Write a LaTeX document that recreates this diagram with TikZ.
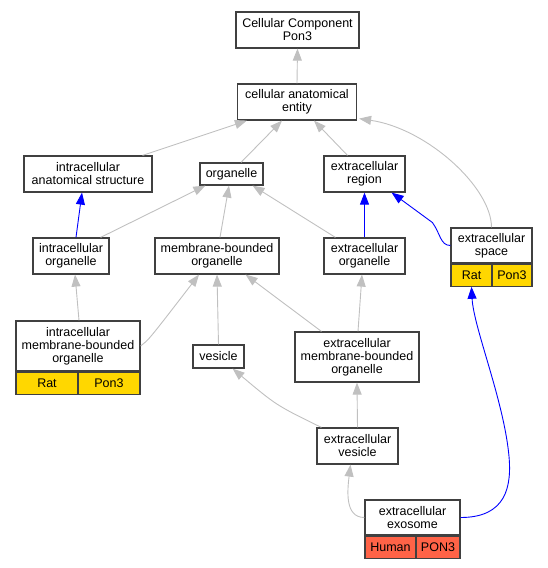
\documentclass[tikz,border=0pt]{standalone}
\usepackage{fontspec}
\setmainfont{Liberation Sans}
\usetikzlibrary{arrows.meta, positioning, calc}
\definecolor{box_gray}{RGB}{64, 64, 64}
\definecolor{edge_gray}{RGB}{192, 192, 192}
\definecolor{rat_gold}{RGB}{255, 215, 0}
\definecolor{human_red}{RGB}{255, 99, 71}
\definecolor{isa_blue}{RGB}{0, 0, 255}

\begin{document}
\begin{tikzpicture}[
    x=1pt, y=-1pt,
    % Node styles
    term/.style={
        rectangle,
        draw=box_gray,
        fill=white,
        line width=1.2pt,
        inner sep=1pt,
        align=center,
        font=\fontsize{12.5}{13}\selectfont
    },
    cell/.style={
        rectangle,
        draw=box_gray,
        fill=#1,
        line width=1.2pt,
        inner sep=1pt,
        minimum height=22pt,
        font=\fontsize{12.5}{13}\selectfont
    },
    arrow/.style={
        -{Triangle[length=12pt, width=9pt]},
        line width=0.9pt,
        #1
    }
]
\useasboundingbox (0,0) rectangle (548,568);

% Position nodes
\node[term, minimum width=123pt, minimum height=36pt] (top) at (297.5,30) {Cellular Component\\Pon3};
\node[term, minimum width=119pt, minimum height=36pt] (cae) at (297,102) {cellular anatomical\\entity};

\node[term, minimum width=128pt, minimum height=36pt] (ias) at (88,174) {intracellular\\anatomical structure};
\node[term, minimum width=63pt, minimum height=22pt] (organelle) at (231.5,174) {organelle};
\node[term, minimum width=81pt, minimum height=36pt] (region) at (364.5,174) {extracellular\\region};

\node[term, minimum width=76pt, minimum height=36pt] (io) at (71,256) {intracellular\\organelle};
\node[term, minimum width=124pt, minimum height=36pt] (mbo) at (217,256) {membrane-bounded\\organelle};
\node[term, minimum width=81pt, minimum height=36pt] (eo) at (364.5,256) {extracellular\\organelle};

\node[term, minimum width=81pt, minimum height=35pt] (space) at (491.5,245.5) {extracellular\\space};
\node[cell=rat_gold, anchor=north west, minimum width=41pt] (spaceRat) at (space.south west) {Rat};
\node[cell=rat_gold, anchor=north east, minimum width=40pt] (spacePon) at (space.south east) {Pon3};

\node[term, minimum width=124pt, minimum height=50pt] (imbo) at (78,346) {intracellular\\membrane-bounded\\organelle};
\node[cell=rat_gold, anchor=north west, minimum width=62pt] (imboRat) at (imbo.south west) {Rat};
\node[cell=rat_gold, anchor=north east, minimum width=62pt] (imboPon) at (imbo.south east) {Pon3};

\node[term, minimum width=51pt, minimum height=23pt] (vesicle) at (218.5,356.5) {vesicle};
\node[term, minimum width=124pt, minimum height=50pt] (emo) at (357,357) {extracellular\\membrane-bounded\\organelle};

\node[term, minimum width=81pt, minimum height=36pt] (ev) at (357.5,446) {extracellular\\vesicle};

\node[term, minimum width=95pt, minimum height=35pt] (exo) at (412.5,517.5) {extracellular\\exosome};
\node[cell=human_red, anchor=north west, minimum width=51pt] (exoHuman) at (exo.south west) {Human};
\node[cell=human_red, anchor=north east, minimum width=44pt] (exoPon) at (exo.south east) {PON3};

% draw arrows
\draw[arrow=edge_gray] (cae.north) -- (top.south);

\draw[arrow=edge_gray] ($(ias.north east)+(-10,0)$) -- ($(cae.south west)+(10,0)$);
\draw[arrow=edge_gray] ($(organelle.north)+(9.5,0)$) -- ($(cae.south)+(-15,0)$);
\draw[arrow=edge_gray] ($(region.north)+(-17,0)$) -- ($(cae.south)+(17,0)$);
\draw[arrow=edge_gray] (space.north) .. controls ($(space.north)+(0,-40)$) and ($(cae.south east)+(70,8)$) .. ($(cae.south east)+(2,-2)$);

\draw[arrow=isa_blue] ($(io.north)+(5,0)$) -- ($(ias.south)+(-6,0)$);
\draw[arrow=edge_gray] ($(io.north east)+(-9,0)$) -- ($(organelle.south west)+(6,0)$);
\draw[arrow=edge_gray] ($(mbo.north)+(3,0)$) -- ($(organelle.south)+(-2.5,0)$);
\draw[arrow=edge_gray] ($(eo.north west)+(12,0)$) -- ($(organelle.south east)+(-11,0)$);

\draw[arrow=isa_blue] (eo.north) -- (region.south);
\draw[arrow=isa_blue] (space.west) .. controls ($(space.west)+(-10,0)$) and ($(space.west)+(-10,-12)$) .. ($(space.west)+(-18,-23)$) -- ($(region.south east)+(-14,0)$);

\draw[arrow=edge_gray] ($(imbo.north)+(1,0)$) -- ($(io.south)+(4,0)$);
\draw[arrow=edge_gray] (imbo.east) .. controls ($(imbo.east)+(8,-6)$) .. ($(mbo.south)+(-18,0)$);
\draw[arrow=edge_gray] (vesicle.north) -- (mbo.south);
\draw[arrow=edge_gray] ($(emo.north west)+(27,0)$) -- ($(mbo.south east)+(-34,0)$);
\draw[arrow=edge_gray] ($(emo.north)+(1,0)$) -- ($(eo.south)+(-2.5,0)$);

\draw[arrow=edge_gray] ($(ev.north west)+(5,0)$) .. controls ($(ev.north west)+(-40,-22)$) .. ($(vesicle.south east)+(-12,0)$);
\draw[arrow=edge_gray] (ev.north) -- (emo.south);

\draw[arrow=edge_gray] (exo.west) .. controls ($(exo.west)+(-20,0)$) and ($(ev.south)+(-10,25)$) .. ($(ev.south)+(-7,0)$);
\draw[arrow=isa_blue] (exo.east) .. controls ($(exo.east)+(45,0)$) and ($(exo.east)+(52,-30)$) .. ($(exo.east)+(48,-65)$) .. controls ($(exo.east)+(42,-120)$) and ($(spaceRat.south)+(2,40)$) .. (spaceRat.south);

\end{tikzpicture}
\end{document}
